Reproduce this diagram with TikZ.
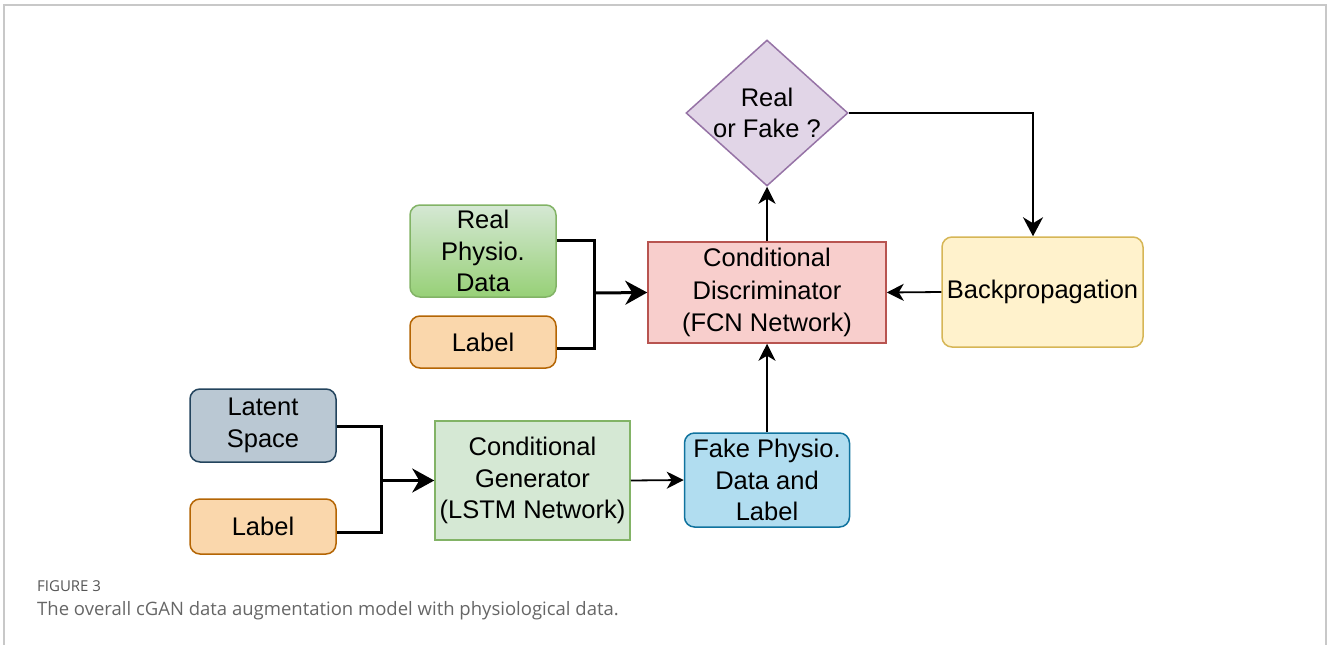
\documentclass[tikz,border=0pt]{standalone}
\usepackage{fontspec}
\setmainfont{Liberation Sans}
\newfontfamily\capfont{Open Sans}
\usetikzlibrary{shapes.geometric,arrows.meta}
\definecolor{frameg}{HTML}{C8C8C8}
\definecolor{capg}{HTML}{666666}
\definecolor{capd}{HTML}{555555}
\definecolor{greenF}{HTML}{D5E8D4}
\definecolor{greenB}{HTML}{97D077}
\definecolor{greenD}{HTML}{82B366}
\definecolor{orangeF}{HTML}{FAD7AC}
\definecolor{orangeD}{HTML}{B46504}
\definecolor{blueF}{HTML}{BAC8D3}
\definecolor{blueD}{HTML}{23445D}
\definecolor{cyanF}{HTML}{B1DDF0}
\definecolor{cyanD}{HTML}{10739E}
\definecolor{redF}{HTML}{F8CECC}
\definecolor{redD}{HTML}{B85450}
\definecolor{yellF}{HTML}{FFF2CC}
\definecolor{yellD}{HTML}{D6B656}
\definecolor{purpF}{HTML}{E1D5E7}
\definecolor{purpD}{HTML}{9673A6}
\tikzset{
  x=1pt, y=-1pt,
  box/.style={draw, line width=1.5pt, align=center, inner sep=0pt,
    font=\fontsize{25.5}{31.5}\selectfont},
  rbox/.style={box, rounded corners=10pt},
  thickarr/.style={line width=3pt, -{Stealth[length=22pt,width=24pt,inset=7pt]}},
  thickline/.style={line width=3pt},
  thinarr/.style={line width=1.8pt, -{Stealth[length=17pt,width=17pt,inset=5pt]}},
  bigthinarr/.style={line width=1.8pt, -{Stealth[length=19pt,width=20pt,inset=6pt]}},
}
\begin{document}
\begin{tikzpicture}
\useasboundingbox (0,0) rectangle (1328,645);
\draw[frameg, line width=2pt] (4,645) -- (4,5) -- (1326,5) -- (1326,645);

% nodes
\node[box, diamond, draw=purpD, fill=purpF, minimum width=162pt, minimum height=146pt] (dec) at (767,113) {};
\node[font=\fontsize{25.5}{31.5}\selectfont, align=center] (dect) at (767,113) {Real\\or Fake ?};
\node[box, draw=redD, fill=redF, minimum width=238pt, minimum height=101pt, font=\fontsize{25.5}{32.5}\selectfont] (disc) at (767,292.5) {Conditional\\Discriminator\\(FCN Network)};
\node[rbox, draw=yellD, fill=yellF, minimum width=201pt, minimum height=110pt] (bp) at (1042.5,292) {\raisebox{-2pt}{Backpropagation}};
\node[rbox, draw=greenD, top color=greenF, bottom color=greenB, minimum width=146pt, minimum height=92pt] (real) at (483,251) {Real\\Physio.\\Data};
\node[rbox, draw=orangeD, fill=orangeF, minimum width=146pt, minimum height=52pt] (lab1) at (483,342) {Label};
\node[rbox, draw=blueD, fill=blueF, minimum width=146pt, minimum height=73pt] (lat) at (263,425.5) {Latent\\Space};
\node[rbox, draw=orangeD, fill=orangeF, minimum width=146pt, minimum height=55pt] (lab2) at (263,526.5) {Label};
\node[box, draw=greenD, fill=greenF, minimum width=195pt, minimum height=119pt] (gen) at (532.5,480.5) {Conditional\\Generator\\(LSTM Network)};
\node[rbox, draw=cyanD, fill=cyanF, minimum width=165pt, minimum height=94pt] (fake) at (767,480) {Fake Physio.\\Data and\\Label};

% connectors
\coordinate (j1) at (594,293);
\draw[thickline] (real.east |- 0,240) -| (j1);
\draw[thickline] (lab1.east |- 0,348) -| (j1);
\draw[thickarr] (j1) -- (disc.west);
\coordinate (j2) at (381,480.5);
\draw[thickline] (lat.east |- 0,426) -| (j2);
\draw[thickline] (lab2.east |- 0,532) -| (j2);
\draw[thickarr] (j2) -- (gen.west);
\draw[thinarr] (gen.east) -- (fake.west);
\draw[thinarr] (fake.north) -- (disc.south);
\draw[thinarr] (disc.north) -- (dec.south);
\draw[bigthinarr] (dec.east) -| (bp.north -| 1033,0);
\draw[thinarr] (bp.west) -- (disc.east);

% caption
\node[anchor=base west, inner sep=0pt, text=capd, font=\capfont\fontsize{15}{18}\selectfont] (fig) at (37,591) {FIGURE 3};
\node[anchor=base west, inner sep=0pt, text=capg, font=\capfont\fontsize{18.5}{22}\selectfont] (cap) at (37,615) {The overall cGAN data augmentation model with physiological data.};
\end{tikzpicture}
\end{document}
